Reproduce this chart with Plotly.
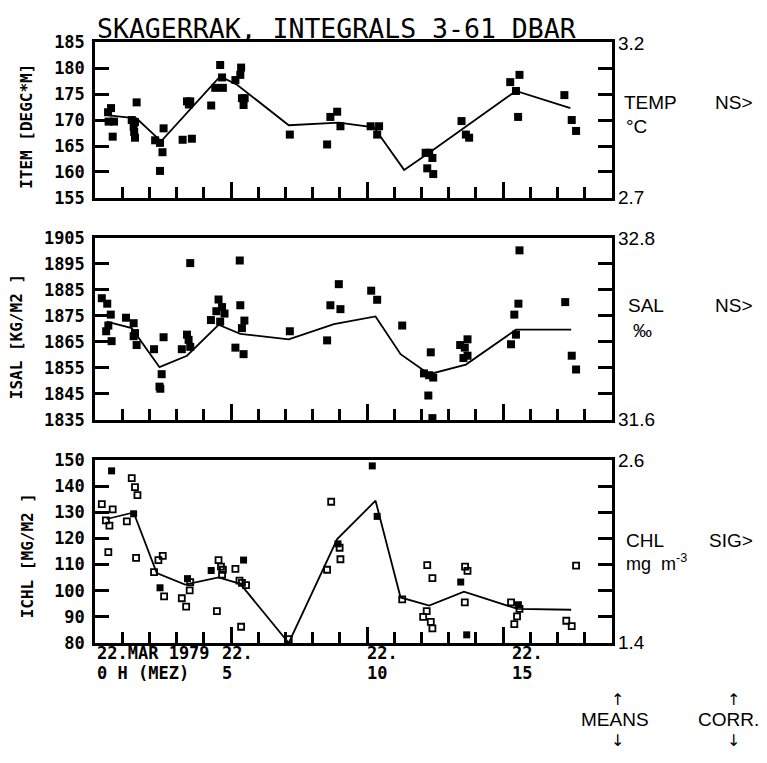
import plotly.graph_objects as go

W, H = 767, 763

# ---- data: days since 22 March 1979, 0 h (MEZ) ----
temp_day = [0.5, 0.7, 0.48, 0.59, 0.65, 1.53, 1.35, 1.47, 1.42, 1.44, 1.47,
            2.21, 2.39, 2.52, 2.48, 2.39, 3.22, 3.56, 3.38, 3.5, 3.45,
            4.27, 4.6, 4.42, 4.7, 4.67, 5.16, 5.34, 5.37, 5.4, 5.5, 5.46,
            7.16, 8.53, 8.65, 8.9, 9.02, 10.13, 10.44, 10.37,
            12.15, 12.28, 12.4, 12.21, 12.43, 13.47, 13.63, 13.75,
            15.26, 15.6, 15.47, 15.55, 17.25, 17.52, 17.68]
temp_val = [169.7, 169.7, 171.5, 172.3, 166.8, 173.4, 170.0, 169.6, 168.7, 167.7, 166.6,
            166.1, 165.6, 168.4, 163.8, 160.2, 166.2, 166.4, 173.6, 173.6, 173.0,
            172.8, 180.6, 176.2, 176.2, 178.2, 177.7, 178.7, 180.1, 174.2, 174.2, 172.9,
            167.2, 165.3, 170.6, 171.6, 168.8, 168.8, 168.8, 167.2,
            163.7, 163.7, 162.7, 160.7, 159.6, 169.8, 167.2, 166.6,
            177.3, 178.7, 175.6, 170.6, 174.8, 170.0, 167.9]
temp_mean_day = [0.49, 1.53, 2.43, 4.6, 5.22, 7.12, 8.96, 10.25, 11.36, 12.28, 15.47, 17.47]
temp_mean_val = [170.9, 170.3, 165.9, 178.4, 176.8, 169.0, 169.5, 168.6, 160.4, 163.7, 175.6, 172.3]

sal_day = [0.25, 0.45, 0.58, 0.49, 0.41, 0.61, 1.14, 1.42, 1.47, 1.42, 1.53,
           2.17, 2.52, 2.45, 2.37, 2.4, 3.19, 3.38, 3.44, 3.5, 3.5,
           4.26, 4.54, 4.67, 4.46, 4.76, 4.6, 5.32, 5.34, 5.49, 5.4, 5.16, 5.46,
           7.16, 8.53, 8.65, 8.96, 9.02, 10.15, 10.37, 11.29,
           12.34, 12.09, 12.28, 12.43, 12.25, 12.4, 13.42, 13.69, 13.59, 13.69, 13.54,
           15.29, 15.47, 15.41, 15.56, 15.6, 17.28, 17.52, 17.68]
sal_val = [1881.8, 1879.7, 1875.5, 1871.3, 1869.1, 1865.3, 1874.3, 1872.2, 1868.4, 1867.2, 1863.8,
           1862.2, 1866.8, 1852.6, 1847.8, 1847.0, 1862.2, 1867.8, 1865.8, 1863.1, 1895.3,
           1873.4, 1881.3, 1878.4, 1876.8, 1875.9, 1872.8, 1896.3, 1879.1, 1873.2, 1870.3, 1862.8, 1860.3,
           1869.1, 1865.6, 1879.1, 1887.2, 1877.6, 1884.7, 1881.2, 1871.3,
           1861.0, 1852.9, 1852.2, 1851.3, 1844.4, 1835.7, 1863.8, 1866.0, 1862.8, 1859.7, 1858.8,
           1864.1, 1867.8, 1875.5, 1879.7, 1900.2, 1880.3, 1859.7, 1854.4]
sal_mean_day = [0.43, 1.35, 2.37, 3.38, 4.54, 5.34, 7.12, 8.78, 10.31, 11.23, 12.28, 13.63, 15.47, 17.5]
sal_mean_val = [1872.8, 1870.3, 1855.3, 1859.7, 1871.6, 1868.1, 1866.0, 1871.8, 1874.8, 1860.3,
                1852.6, 1856.3, 1869.7, 1869.7]

chl_day = [0.25, 0.65, 0.4, 0.53, 0.49, 1.17, 1.35, 1.47, 1.56, 1.51,
           2.17, 2.33, 2.49, 2.54, 3.19, 3.35, 3.5, 3.48,
           4.48, 4.54, 4.63, 4.7, 4.67, 5.16, 5.31, 5.4, 5.55, 5.37,
           7.12, 8.53, 8.68, 8.99, 9.02, 11.29, 12.21, 12.4, 12.06, 12.19, 12.34, 12.4,
           13.6, 13.69, 13.59, 15.29, 15.6, 15.51, 15.41, 17.32, 17.52, 17.68]
chl_val = [133.1, 131.1, 126.9, 124.9, 114.7, 126.5, 143.0, 139.6, 136.5, 112.5,
           107.1, 111.7, 113.3, 97.8, 97.1, 93.9, 103.3, 100.1,
           92.2, 111.7, 109.2, 108.0, 106.1, 108.3, 103.8, 103.0, 102.1, 86.2,
           81.5, 108.0, 134.0, 116.4, 112.0, 96.7, 109.8, 104.8, 90.0, 92.2, 88.1, 85.6,
           109.2, 107.6, 95.5, 95.5, 93.0, 90.2, 87.2, 88.5, 86.4, 109.6]
chl_full_day = [0.61, 1.42, 2.39, 3.4, 4.27, 5.46, 8.93, 10.19, 10.37, 13.44, 13.66, 15.56]
chl_full_val = [145.8, 129.4, 101.1, 104.6, 107.7, 111.7, 117.9, 147.7, 128.4, 103.3, 83.1, 94.6]
chl_mean_day = [0.43, 1.42, 2.27, 3.31, 4.54, 5.34, 7.12, 8.9, 10.31, 11.23, 12.28, 13.56, 15.53, 17.5]
chl_mean_val = [127.4, 129.9, 106.7, 102.3, 105.1, 102.6, 80.0, 119.7, 134.4, 97.4, 94.3, 99.6, 93.0, 92.7]

# axis ticks of the three panels
temp_ticks = [155, 160, 165, 170, 175, 180, 185]
sal_ticks = [1835, 1845, 1855, 1865, 1875, 1885, 1895, 1905]
chl_ticks = [80, 90, 100, 110, 120, 130, 140, 150]
right_labels = [("3.2", "2.7"), ("32.8", "31.6"), ("2.6", "1.4")]
day_major = [5, 10, 15]
day_minor = [d for d in range(1, 19) if d % 5]


def px(x):
    return x / W


def py(y):
    return 1 - y / H


PLOT_L, PLOT_R = 95, 612
panels = [(33, 193), (234, 421), (462, 650)]  # top/bottom pixel rows

fig = go.Figure()

mk = dict(color="black", size=8, symbol="square")
fig.add_trace(go.Scatter(x=temp_day, y=temp_val, mode="markers", marker=mk,
                         xaxis="x", yaxis="y", cliponaxis=False))
fig.add_trace(go.Scatter(x=temp_mean_day, y=temp_mean_val, mode="lines",
                         line=dict(color="black", width=1.8), xaxis="x", yaxis="y"))

fig.add_trace(go.Scatter(x=sal_day, y=sal_val, mode="markers", marker=mk,
                         xaxis="x2", yaxis="y2", cliponaxis=False))
fig.add_trace(go.Scatter(x=sal_mean_day, y=sal_mean_val, mode="lines",
                         line=dict(color="black", width=1.8), xaxis="x2", yaxis="y2"))

fig.add_trace(go.Scatter(x=chl_day, y=chl_val, mode="markers",
                         marker=dict(color="black", size=6, symbol="square-open",
                                     line=dict(color="black", width=1.8)),
                         xaxis="x3", yaxis="y3", cliponaxis=False))
fig.add_trace(go.Scatter(x=chl_full_day, y=chl_full_val, mode="markers",
                         marker=dict(color="black", size=7, symbol="square"),
                         xaxis="x3", yaxis="y3", cliponaxis=False))
fig.add_trace(go.Scatter(x=chl_mean_day, y=chl_mean_val, mode="lines",
                         line=dict(color="black", width=1.8), xaxis="x3", yaxis="y3"))

tick_font = dict(family="DejaVu Sans Mono", size=17, color="black", weight="bold")

layout = dict(
    width=W, height=H, showlegend=False,
    margin=dict(l=0, r=0, t=0, b=0),
    paper_bgcolor="white", plot_bgcolor="white",
)

ranges = [(155, 185, temp_ticks), (1835, 1905, sal_ticks), (80, 150, chl_ticks)]
for i, ((top, bot), (lo, hi, tv)) in enumerate(zip(panels, ranges)):
    sfx = "" if i == 0 else str(i + 1)
    layout["xaxis" + sfx] = dict(
        domain=[px(PLOT_L), px(PLOT_R)], anchor="y" + sfx, range=[0, 19],
        showline=True, linecolor="black", linewidth=2.5, mirror=True,
        showgrid=False, zeroline=False, showticklabels=False,
        ticks="inside", tickmode="array", tickvals=day_major,
        ticklen=16, tickwidth=2.5, tickcolor="black",
        minor=dict(ticks="inside", tickmode="array", tickvals=day_minor, ticklen=11,
                   tickwidth=2.5, tickcolor="black", showgrid=False),
    )
    layout["yaxis" + sfx] = dict(
        domain=[py(bot), py(top)], anchor="x" + sfx, range=[lo, hi],
        showline=True, linecolor="black", linewidth=2.5, mirror="ticks",
        showgrid=False, zeroline=False,
        ticks="inside", tickvals=tv, ticklen=14, tickwidth=2.5, tickcolor="black",
        tickfont=tick_font, ticklabelstandoff=4,
    )

fig.update_layout(**layout)

ann = []


def text(x, y, s, size, family="Liberation Sans", xanchor="left", weight="normal", angle=0):
    ann.append(dict(x=px(x), y=py(y), xref="paper", yref="paper", text=s,
                    showarrow=False, xanchor=xanchor, yanchor="middle", textangle=angle,
                    font=dict(family=family, size=size, color="black", weight=weight)))


text(95, 19, "SKAGERRAK, INTEGRALS 3-61 DBAR", 26.5, family="DejaVu Sans Mono")

mono = "DejaVu Sans Mono"
text(27, 120, "ITEM [DEGC*M]", 16, family=mono, xanchor="center", weight="bold", angle=-90)
text(16, 336, "ISAL [KG/M2 ]", 16, family=mono, xanchor="center", weight="bold", angle=-90)
text(27, 561, "ICHL [MG/M2 ]", 16, family=mono, xanchor="center", weight="bold", angle=-90)

for (top, bot), (a, b) in zip(panels, right_labels):
    text(616, top + 1, a, 19)
    text(616, bot, b, 19)

text(622, 95, "TEMP", 19)
text(713, 95, "NS>", 19)
text(624, 120, "°C", 19)
text(626, 303, "SAL", 19)
text(713, 303, "NS>", 19)
text(631, 329, "‰", 19)
text(624, 545, "CHL", 19)
text(707, 545, "SIG>", 19)
text(624, 567, "mg  m<sup>-3</sup>", 18)

arrow_font = "DejaVu Sans"
text(617, 708, "↑", 16, family=arrow_font, xanchor="center")
text(615, 729, "MEANS", 19, xanchor="center")
text(617, 750, "↓", 16, family=arrow_font, xanchor="center")
text(733, 708, "↑", 16, family=arrow_font, xanchor="center")
text(728, 729, "CORR.", 19, xanchor="center")
text(733, 750, "↓", 16, family=arrow_font, xanchor="center")

text(95, 660, "22.MAR 1979", 17, family=mono, weight="bold")
text(95, 681, "0 H (MEZ)", 17, family=mono, weight="bold")
for x0, d in [(220, "5"), (365, "10"), (510, "15")]:
    text(x0, 660, "22.", 17, family=mono, weight="bold")
    text(x0, 681, d, 17, family=mono, weight="bold")

fig.update_layout(annotations=ann)
fig.write_html("out.html")
